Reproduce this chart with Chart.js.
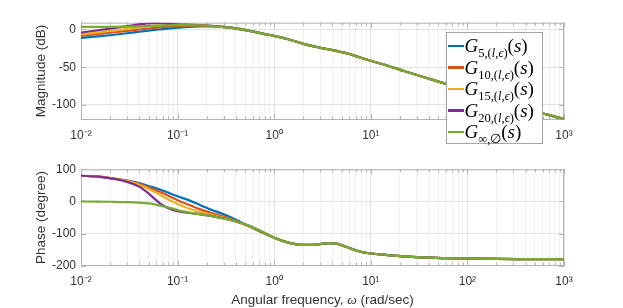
<!DOCTYPE html>
<html>
<head>
<meta charset="utf-8">
<script src="https://cdn.jsdelivr.net/npm/chart.js@4.4.0/dist/chart.umd.min.js"></script>
<style>
  body { margin: 0; background: #fff; }
  #wrap { position: relative; width: 623px; height: 308px; overflow: hidden; font-family: "Liberation Sans", Arial, sans-serif; }
  canvas { position: absolute; left: 0; }
  #xtitle { position: absolute; left: 0; width: 645px; top: 293px; text-align: center; font-size: 13.5px; line-height: 14px; color: #333; white-space: nowrap; }
  #legend { position: absolute; left: 446px; top: 32px; width: 95px; height: 110px; border: 1px solid #a6a6a6; background: #fff; font-family: "Liberation Serif", "DejaVu Serif", serif; color: #000; box-sizing: content-box; }
  .row { height: 21.5px; display: flex; align-items: center; white-space: nowrap; }
  .row:first-child { margin-top: 2px; }
  .sw { width: 16px; height: 2.5px; margin-left: 0.5px; margin-right: 1px; flex: none; }
  .tx { font-size: 19px; line-height: 19px; }
  .tx sub { font-size: 12.5px; vertical-align: -5px; line-height: 0; }
</style>
</head>
<body>
<div id="wrap">
  <canvas id="mag" width="623" height="150" style="top:0"></canvas>
  <canvas id="phase" width="623" height="158" style="top:150px"></canvas>
  <div id="xtitle">Angular frequency, <i style="font-family:'Liberation Serif',serif">ω</i> (rad/sec)</div>
  <div id="legend"></div>
</div>
<script>
// frequencies (rad/sec): low part differs per model, tail is shared
const freq = [0.01, 0.015, 0.02, 0.03, 0.04, 0.05, 0.06, 0.07, 0.085, 0.1, 0.13, 0.17, 0.22, 0.3, 0.4, 0.55, 0.75];
const freqTail = [1, 1.4, 2, 2.6, 3.2, 3.7, 4.3, 5, 6, 7.5, 10, 15, 22, 35, 60, 100, 200, 400, 1000];

// magnitude (dB)
const magG5   = [-11.2, -9.2, -7.6, -5, -3, -1.5, -0.3, 0.6, 1.6, 2.3, 3.3, 4, 4.2, 3.6, 1.9, -1.3, -5.2];
const magG10  = [-8.5, -6, -4.3, -1.8, 0, 1.3, 2.3, 3.1, 3.9, 4.4, 5, 5.2, 4.8, 3.4, 1.5, -1.6, -5.3];
const magG15  = [-6.5, -3.8, -2, 0.7, 2.6, 4, 5, 5.6, 6, 6.1, 6, 5.6, 4.8, 3.2, 1.3, -1.7, -5.4];
const magG20  = [-4, -1, 1.2, 4.4, 6.7, 8.2, 8.6, 8.3, 7.5, 6.8, 6.2, 5.6, 4.7, 3.1, 1.2, -1.8, -5.4];
const magGinf = [3.4, 3.5, 3.6, 3.9, 4.2, 4.6, 5, 5.3, 5.6, 5.8, 5.8, 5.5, 4.6, 3, 1.2, -1.8, -5.4];
const magTail = [-8.5, -13, -19, -22.5, -25, -26.5, -28, -30, -32.5, -36.5, -41.5, -48, -55, -63, -72, -81, -93, -105, -118.5];

// phase (degree)
const phG5   = [80, 77, 73, 65, 57, 48, 41, 34, 24, 16, 4, -11, -25, -40, -57, -77, -97];
const phG10  = [80, 77, 73, 64, 55, 44, 35, 26, 14, 4, -10, -24, -35, -47, -60, -77, -96];
const phG15  = [80, 77, 73, 63, 52, 39, 27, 16, 2, -8, -22, -33, -41, -51, -62, -77, -95];
const phG20  = [80, 77, 72, 61, 46, 25, 4, -12, -24, -30, -36, -40, -45, -53, -62, -76, -94];
const phGinf = [0, -0.5, -1, -2, -3.5, -6, -10, -15, -21, -27, -34, -40, -45, -53, -62, -76, -94];
const phTail = [-113, -128, -135.5, -135, -131.5, -129.5, -130.5, -136, -145, -155, -162, -167, -171, -174, -176.5, -177.5, -179, -179.5, -180];

const seriesNames = ["G5,(l,ϵ)(s)", "G10,(l,ϵ)(s)", "G15,(l,ϵ)(s)", "G20,(l,ϵ)(s)", "G∞,∅(s)"];
const seriesSubs = ["5,(<i>l</i>,<i>ϵ</i>)", "10,(<i>l</i>,<i>ϵ</i>)", "15,(<i>l</i>,<i>ϵ</i>)", "20,(<i>l</i>,<i>ϵ</i>)", "∞,∅"];
const seriesColors = ["#0072BD", "#D95319", "#EDB120", "#7E2F8E", "#77AC30"];
const magHeads = [magG5, magG10, magG15, magG20, magGinf];
const phHeads = [phG5, phG10, phG15, phG20, phGinf];

const decadeTicks = [0.01, 0.1, 1, 10, 100, 1000];
const decadeLabels = ["10⁻²", "10⁻¹", "10⁰", "10¹", "10²", "10³"];
const magTicks = [-100, -50, 0];
const phTicks = [-200, -100, 0, 100];

// all log grid positions 1..9 x 10^n
const xTicks = [];
for (let e = -2; e < 3; e++) {
  for (let m = 1; m < 10; m++) xTicks.push(Number((m * Math.pow(10, e)).toPrecision(3)));
}
xTicks.push(1000);

function decadeIndex(v) {
  return decadeTicks.findIndex(d => Math.abs(d - v) / d < 1e-6);
}

const allFreq = freq.concat(freqTail);
function points(head, tail) {
  const ys = head.concat(tail);
  return allFreq.map((x, i) => ({ x: x, y: ys[i] }));
}

const axisColor = "#b3b3b3";
const textColor = "#333";

// box edges and inward ticks, like the matlab axes
const boxPlugin = {
  id: "box",
  beforeDatasetsDraw(chart) {
    const ctx = chart.ctx, a = chart.chartArea;
    const xs = chart.scales.x, ys = chart.scales.y;
    ctx.save();
    ctx.strokeStyle = axisColor;
    ctx.lineWidth = 1;
    ctx.beginPath();
    ctx.moveTo(a.left, a.top + 0.5); ctx.lineTo(a.right, a.top + 0.5);
    ctx.moveTo(a.right - 0.5, a.top); ctx.lineTo(a.right - 0.5, a.bottom);
    xTicks.forEach(v => {
      const px = Math.round(xs.getPixelForValue(v)) + 0.5;
      const len = decadeIndex(v) >= 0 ? 5 : 3;
      ctx.moveTo(px, a.bottom); ctx.lineTo(px, a.bottom - len);
      ctx.moveTo(px, a.top); ctx.lineTo(px, a.top + len);
    });
    ys.ticks.forEach(t => {
      const py = Math.round(ys.getPixelForValue(t.value)) + 0.5;
      ctx.moveTo(a.left, py); ctx.lineTo(a.left + 5, py);
      ctx.moveTo(a.right, py); ctx.lineTo(a.right - 5, py);
    });
    ctx.stroke();
    ctx.restore();
  }
};

function makeChart(id, heads, tail, yMin, yMax, yTicks, yTitle, topPad, xHeight) {
  const datasets = heads.map((h, i) => ({
    label: seriesNames[i],
    data: points(h, tail),
    borderColor: seriesColors[i],
    borderWidth: 2.2,
    pointRadius: 0,
    fill: false,
    cubicInterpolationMode: "monotone",
    order: 4 - i
  }));
  return new Chart(document.getElementById(id), {
    type: "line",
    data: { datasets: datasets },
    plugins: [boxPlugin],
    options: {
      responsive: false,
      animation: false,
      devicePixelRatio: 1,
      layout: { padding: { left: 0, right: 59, top: topPad, bottom: 0 } },
      plugins: { legend: { display: false }, tooltip: { enabled: false } },
      scales: {
        x: {
          type: "logarithmic",
          min: 0.01,
          max: 1000,
          afterBuildTicks: s => { s.ticks = xTicks.map(v => ({ value: v })); },
          afterFit: s => { s.height = xHeight; },
          ticks: {
            autoSkip: false,
            maxRotation: 0,
            minRotation: 0,
            padding: 9,
            color: textColor,
            font: { family: "'Liberation Sans', Arial, sans-serif", size: 12 },
            callback: v => { const k = decadeIndex(v); return k >= 0 ? decadeLabels[k] : ""; }
          },
          grid: {
            drawTicks: false,
            color: c => (c.tick && decadeIndex(c.tick.value) >= 0) ? "#e3e3e3" : "#f1f1f1"
          },
          border: { color: axisColor }
        },
        y: {
          min: yMin,
          max: yMax,
          afterBuildTicks: s => { s.ticks = yTicks.map(v => ({ value: v })); },
          afterFit: s => { s.width = 81; },
          ticks: {
            padding: 5,
            color: textColor,
            font: { family: "'Liberation Sans', Arial, sans-serif", size: 12 },
            callback: v => String(v)
          },
          grid: { drawTicks: false, color: "#e3e3e3" },
          border: { color: axisColor },
          title: {
            display: true,
            text: yTitle,
            color: textColor,
            font: { family: "'Liberation Sans', Arial, sans-serif", size: 13.5 },
            padding: { top: 33, bottom: 0 }
          }
        }
      }
    }
  });
}

makeChart("mag", magHeads, magTail, -119, 9, magTicks, "Magnitude (dB)", 22.7, 30.7);
makeChart("phase", phHeads, phTail, -200, 100, phTicks, "Phase (degree)", 19.3, 42.3);

// legend with sub/superscripts as html text
const legend = document.getElementById("legend");
seriesNames.forEach((n, i) => {
  const row = document.createElement("div");
  row.className = "row";
  row.innerHTML = '<span class="sw" style="background:' + seriesColors[i] + '"></span>' +
    '<span class="tx"><i>G</i><sub>' + seriesSubs[i] + '</sub>(<i>s</i>)</span>';
  legend.appendChild(row);
});
</script>
</body>
</html>
